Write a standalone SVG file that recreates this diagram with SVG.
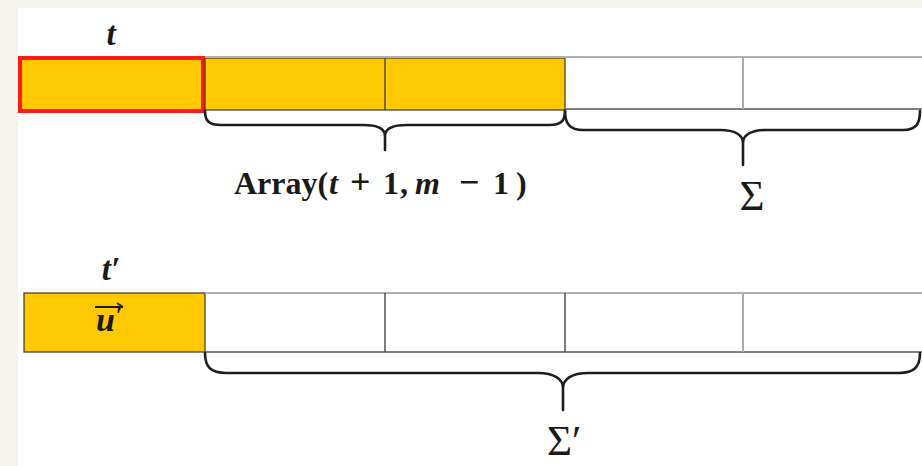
<svg xmlns="http://www.w3.org/2000/svg" width="922" height="466" viewBox="0 0 922 466">
<style>
.yel{fill:#FFC800;stroke:#3a3a2a;stroke-width:1.2}
.edge{stroke:#b0b0b0;stroke-width:2;fill:none}
.edgeD{stroke:#555;stroke-width:1.6;fill:none}
.div{stroke:#444;stroke-width:1.4}
.divL{stroke:#aaa;stroke-width:2}
.brace{fill:none;stroke:#1e1e1e;stroke-width:2.6;stroke-linejoin:round;stroke-linecap:round}
.mt{font-family:"Liberation Serif","DejaVu Serif",serif;fill:#1a1a1a}
.bi{font-weight:bold;font-style:italic}
.b{font-weight:bold}
</style>
<rect x="0" y="0" width="922" height="466" fill="#f5f5ee"/>
<rect x="18" y="8" width="904" height="458" fill="#ffffff"/>

<g id="row1">
  <g id="cell-t">
    <rect x="20" y="58" width="183" height="53" fill="#FFC800" stroke="#ff1a1a" stroke-width="4"/>
    <text class="mt bi" x="111" y="45" font-size="33" text-anchor="middle">t</text>
  </g>
  <g id="cells-array">
    <rect class="yel" x="205" y="58" width="360" height="52"/>
    <line class="div" x1="385" y1="58" x2="385" y2="110"/>
  </g>
  <g id="cells-sigma">
    <line class="edge" x1="565" y1="57" x2="922" y2="57"/>
    <line class="edgeD" x1="565" y1="109" x2="922" y2="109"/>
    <line class="divL" x1="743" y1="57" x2="743" y2="109"/>
  </g>
  <line class="edge" x1="205" y1="57" x2="565" y2="57"/>
</g>

<g id="row2">
  <g id="cell-tprime">
    <rect class="yel" x="24" y="293" width="181" height="59"/>
    <text class="mt bi" x="111" y="280" font-size="33" text-anchor="middle">t′</text>
    <text class="mt bi" x="96" y="331" font-size="34">u</text>
    <text class="mt b" x="116" y="322" font-size="22">′</text>
    <line x1="95" y1="307" x2="123" y2="307" stroke="#1a1a1a" stroke-width="2"/>
    <path d="M117 303 L123 307" stroke="#1a1a1a" stroke-width="1.6" fill="none"/>
  </g>
  <g id="cells-sigmaprime">
    <line class="edge" x1="205" y1="293" x2="922" y2="293"/>
    <line class="edgeD" x1="205" y1="352" x2="922" y2="352"/>
    <line class="div" x1="385" y1="293" x2="385" y2="352"/>
    <line class="div" x1="565" y1="293" x2="565" y2="352"/>
    <line class="divL" x1="743" y1="293" x2="743" y2="352"/>
  </g>
</g>

<g id="connectors">
  <path class="brace" d="M205 111 C205 121 209 125 221 125 L363 125 C377 125 385 129 385 136 C385 129 393 125 407 125 L549 125 C561 125 565 121 565 111 M385 136 L385 150"/>
  <path class="brace" d="M565 111 C565 124 570 130 583 130 L720 130 C735 130 743 135 743 143 C743 135 751 130 766 130 L903 130 C916 130 920 124 920 111 M743 143 L743 165"/>
  <path class="brace" d="M205 353 C205 367 211 373 226 373 L538 373 C554 373 563 379 563 388 C563 379 572 373 588 373 L899 373 C914 373 920 367 920 353 M563 388 L563 410"/>
</g>

<g id="labels">
  <text class="mt b" y="194" font-size="32"><tspan x="234">Array(</tspan><tspan x="329" class="bi">t</tspan><tspan x="350" font-size="36">+</tspan><tspan x="383">1</tspan><tspan x="400">,</tspan><tspan x="415" class="bi">m</tspan><tspan x="459" font-size="36">−</tspan><tspan x="493">1</tspan><tspan x="516">)</tspan></text>
  <text class="mt" x="752" y="210" font-size="43" text-anchor="middle">Σ</text>
  <text class="mt" x="547" y="455" font-size="43">Σ′</text>
</g>
</svg>
